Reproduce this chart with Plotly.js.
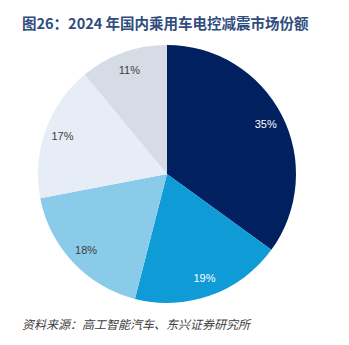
<!DOCTYPE html>
<html><head><meta charset="utf-8">
<script src="https://cdn.plot.ly/plotly-3.0.1.min.js"></script>
<style>body{margin:0;padding:0;background:#fff}#chart{width:349px;height:345px}</style>
</head><body><div id="chart"></div>
<script>
const categories = ["A", "B", "C", "D", "E"];
const shares = [35, 19, 18, 17, 11];
const labelsText = ["35%", "19%", "18%", "17%", "11%"];
const colors = ["#002060", "#0f9bd6", "#8bcbea", "#e6edf6", "#d6dce5"];
const textColors = ["#ffffff", "#ffffff", "#404040", "#404040", "#404040"];

const dom = {x: [38/349, 296/349], y: [42/345, 300/345]};

const pieTrace = {
  type: "pie",
  labels: categories,
  values: shares,
  textinfo: "none",
  sort: false,
  direction: "clockwise",
  rotation: 0,
  marker: {colors: colors, line: {color: "#ffffff", width: 0}},
  domain: dom,
  hoverinfo: "none",
  showlegend: false
};

const labelTrace = {
  type: "pie",
  labels: categories,
  values: shares,
  text: labelsText,
  texttemplate: "%{text}",
  textposition: "inside",
  insidetextorientation: "horizontal",
  hole: 0.72,
  sort: false,
  direction: "clockwise",
  rotation: 0,
  marker: {colors: categories.map(() => "rgba(0,0,0,0)"), line: {width: 0}},
  insidetextfont: {family: "Liberation Sans, Arial, sans-serif", size: 11, color: textColors},
  domain: dom,
  hoverinfo: "none",
  showlegend: false
};

const layout = {
  width: 349, height: 345,
  margin: {l: 0, r: 0, t: 0, b: 0},
  paper_bgcolor: "#ffffff",
  showlegend: false,
  annotations: [
    {text: "<b>图26：2024 年国内乘用车电控减震市场份额</b>", xref: "paper", yref: "paper",
     x: 20/349, y: 1 - 22/345, xanchor: "left", yanchor: "middle", showarrow: false,
     font: {family: "Noto Sans CJK SC, sans-serif", size: 14.5, color: "#2f4d7e"}},
    {text: "<i>资料来源：高工智能汽车、东兴证券研究所</i>", xref: "paper", yref: "paper",
     x: 20/349, y: 1 - 323/345, xanchor: "left", yanchor: "middle", showarrow: false,
     font: {family: "Noto Sans CJK SC, sans-serif", size: 12, color: "#404040"}}
  ]
};
Plotly.newPlot("chart", [pieTrace, labelTrace], layout, {staticPlot: true, displayModeBar: false});
</script></body></html>
